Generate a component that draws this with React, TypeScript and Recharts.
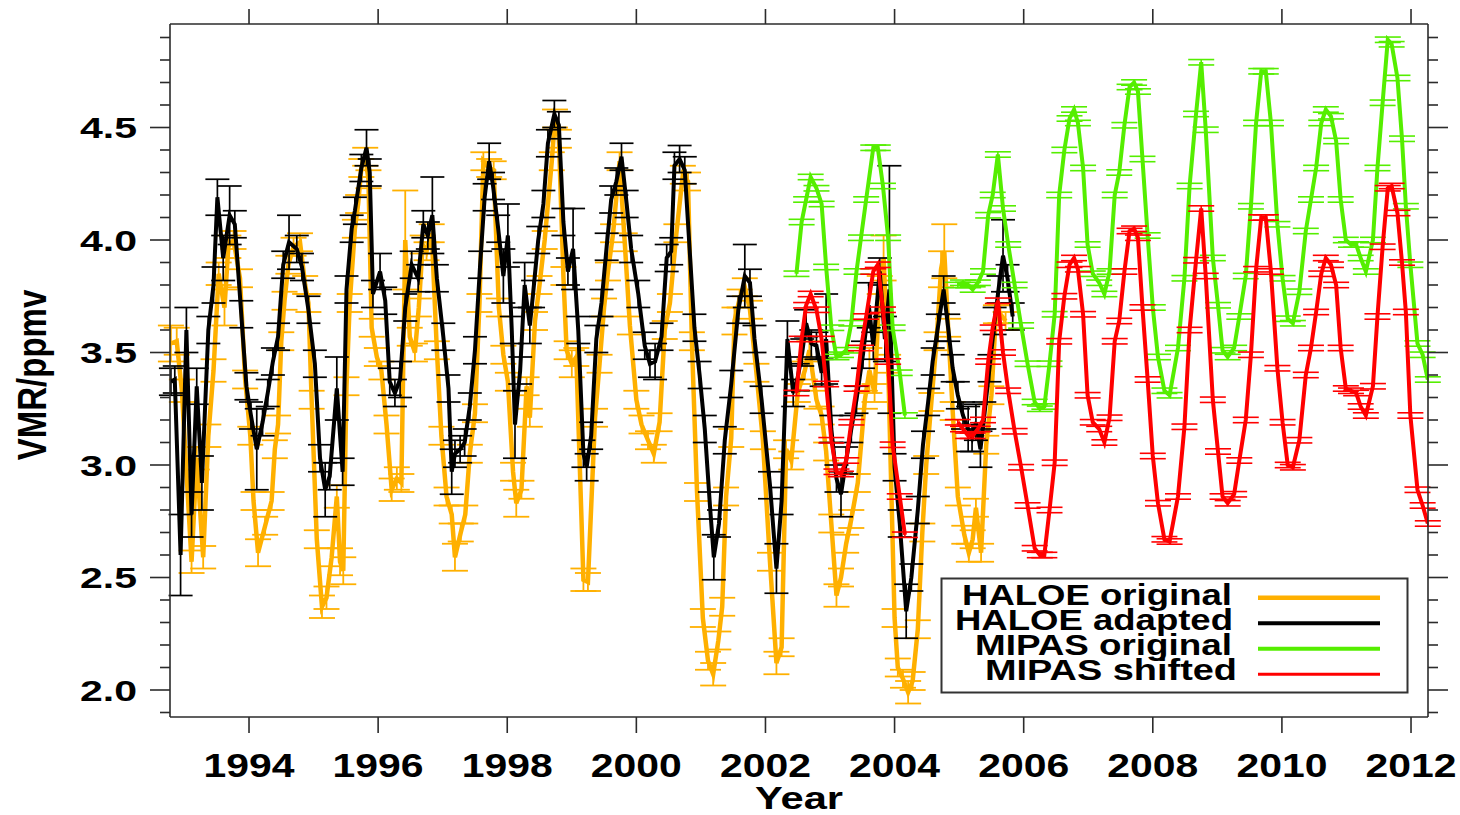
import React from 'react'
import { LineChart, Line, XAxis, YAxis, ErrorBar, Legend } from 'recharts'

// time in decimal years, water vapour in ppmv

const haloeOrigT = [
  1992.79, 1992.88, 1992.96,
  1993.11, 1993.19, 1993.29, 1993.37, 1993.45, 1993.53, 1993.62, 1993.68, 1993.76, 1993.86, 1993.94,
  1994.02, 1994.07, 1994.14, 1994.25, 1994.35, 1994.40, 1994.45, 1994.50, 1994.55, 1994.61, 1994.69, 1994.79, 1994.87, 1994.92, 1994.97,
  1995.05, 1995.13, 1995.20, 1995.28, 1995.36, 1995.41, 1995.46, 1995.51, 1995.56, 1995.64, 1995.69, 1995.74, 1995.80, 1995.85, 1995.90, 1995.98,
  1996.05, 1996.13, 1996.21, 1996.29, 1996.36, 1996.42, 1996.49, 1996.57, 1996.63, 1996.69, 1996.75, 1996.83, 1996.91, 1996.98,
  1997.06, 1997.14, 1997.19, 1997.28, 1997.35, 1997.42, 1997.50, 1997.57, 1997.63, 1997.72, 1997.79, 1997.87, 1997.94,
  1998.01, 1998.09, 1998.14, 1998.22, 1998.30, 1998.35, 1998.43, 1998.50, 1998.58, 1998.69, 1998.74, 1998.80, 1998.87, 1998.92,
  1999.00, 1999.07, 1999.18, 1999.25, 1999.36, 1999.43, 1999.50, 1999.56, 1999.64, 1999.74, 1999.82, 1999.90,
  2000.00, 2000.08, 2000.18, 2000.27, 2000.36, 2000.44, 2000.52, 2000.62, 2000.72, 2000.80, 2000.86, 2000.94,
  2001.03, 2001.11, 2001.19, 2001.27, 2001.33, 2001.39, 2001.47, 2001.52, 2001.60, 2001.68, 2001.76, 2001.86, 2001.96,
  2002.07, 2002.17, 2002.25, 2002.32, 2002.40, 2002.50, 2002.61, 2002.68, 2002.79, 2002.87, 2002.94,
  2003.02, 2003.10, 2003.17, 2003.25, 2003.33, 2003.43, 2003.54, 2003.61, 2003.69, 2003.77, 2003.83, 2003.90,
  2004.00, 2004.05, 2004.13, 2004.21, 2004.28, 2004.36, 2004.43, 2004.49, 2004.57, 2004.65, 2004.72, 2004.77, 2004.83, 2004.90, 2004.98,
  2005.08, 2005.15, 2005.21, 2005.26, 2005.34, 2005.42, 2005.50, 2005.57, 2005.64, 2005.72,
]
const haloeOrigV = [
  3.54, 3.55, 3.33,
  2.57, 3.03, 2.59, 3.13, 3.42, 3.85, 3.70, 3.97, 4.00, 3.83, 3.38,
  3.13, 2.84, 2.61, 2.73, 2.84, 3.07, 3.18, 3.55, 3.73, 3.89, 3.97, 3.99, 3.80, 3.72, 3.29,
  2.67, 2.37, 2.41, 2.59, 2.86, 2.57, 2.53, 3.35, 3.72, 4.05, 4.16, 4.32, 4.37, 4.27, 3.61, 3.48,
  3.42, 3.18, 2.89, 2.94, 2.92, 4.00, 3.57, 3.50, 3.70, 3.98, 3.95, 4.03, 3.51, 3.13,
  2.86, 2.78, 2.59, 2.70, 2.78, 3.05, 3.23, 3.72, 4.35, 4.32, 4.31, 3.70, 3.49,
  3.37, 2.97, 2.83, 2.89, 3.35, 3.21, 3.64, 3.80, 4.00, 4.35, 4.54, 4.45, 3.84, 3.51,
  3.45, 3.48, 2.49, 2.48, 3.21, 3.45, 3.70, 3.86, 4.03, 4.35, 3.99, 3.62,
  3.29, 3.18, 3.11, 3.05, 3.19, 3.60, 3.72, 4.03, 4.29, 4.26, 3.55, 2.88,
  2.32, 2.13, 2.07, 2.22, 2.37, 2.86, 3.12, 3.64, 3.74, 3.79, 3.69, 3.41, 3.11,
  2.57, 2.12, 2.19, 3.07, 3.02, 3.32, 3.42, 3.51, 3.29, 3.22, 3.06,
  2.74, 2.42, 2.50, 2.65, 2.76, 2.92, 3.29, 3.42, 3.32, 3.80, 3.92, 3.45,
  2.32, 2.10, 2.05, 1.99, 2.04, 2.27, 2.70, 3.00, 3.28, 3.55, 3.87, 3.95, 3.61, 3.24, 2.86,
  2.69, 2.61, 2.67, 2.81, 2.61, 3.09, 3.31, 3.67, 3.67, 3.64,
]
const haloeOrigE = [
  0.08, 0.06, 0.05,
  0.05, 0.05, 0.05, 0.05, 0.05, 0.05, 0.08, 0.05, 0.04, 0.04, 0.04,
  0.04, 0.04, 0.06, 0.04, 0.04, 0.04, 0.04, 0.04, 0.04, 0.04, 0.04, 0.04, 0.04, 0.04, 0.04,
  0.04, 0.05, 0.05, 0.04, 0.05, 0.06, 0.06, 0.04, 0.04, 0.04, 0.04, 0.04, 0.04, 0.04, 0.04, 0.04,
  0.04, 0.04, 0.05, 0.05, 0.04, 0.22, 0.04, 0.04, 0.04, 0.04, 0.04, 0.04, 0.04, 0.04,
  0.04, 0.04, 0.06, 0.04, 0.04, 0.04, 0.04, 0.04, 0.04, 0.04, 0.04, 0.04, 0.04,
  0.04, 0.04, 0.06, 0.04, 0.04, 0.04, 0.04, 0.04, 0.04, 0.04, 0.04, 0.04, 0.04, 0.04,
  0.06, 0.04, 0.05, 0.04, 0.04, 0.04, 0.04, 0.04, 0.04, 0.04, 0.04, 0.04,
  0.04, 0.04, 0.04, 0.04, 0.04, 0.04, 0.04, 0.04, 0.04, 0.04, 0.04, 0.04,
  0.04, 0.04, 0.05, 0.04, 0.04, 0.04, 0.04, 0.06, 0.04, 0.04, 0.04, 0.04, 0.04,
  0.04, 0.05, 0.04, 0.04, 0.04, 0.04, 0.04, 0.04, 0.04, 0.04, 0.04,
  0.04, 0.05, 0.04, 0.04, 0.04, 0.04, 0.04, 0.10, 0.04, 0.04, 0.10, 0.04,
  0.04, 0.04, 0.04, 0.05, 0.04, 0.04, 0.04, 0.04, 0.04, 0.04, 0.08, 0.12, 0.04, 0.04, 0.04,
  0.04, 0.04, 0.04, 0.04, 0.04, 0.04, 0.04, 0.04, 0.04, 0.04,
]

const haloeAdaptT = [
  1992.79, 1992.85, 1992.94,
  1993.03, 1993.11, 1993.19, 1993.27, 1993.37, 1993.45, 1993.51, 1993.60, 1993.70, 1993.78, 1993.88, 1993.96,
  1994.03, 1994.12, 1994.21, 1994.29, 1994.37, 1994.45, 1994.53, 1994.62, 1994.74, 1994.82, 1994.92,
  1995.02, 1995.10, 1995.18, 1995.25, 1995.36, 1995.45, 1995.51, 1995.59, 1995.64, 1995.74, 1995.82, 1995.87, 1995.92,
  1996.03, 1996.11, 1996.18, 1996.26, 1996.34, 1996.42, 1996.52, 1996.62, 1996.70, 1996.77, 1996.84, 1996.91,
  1997.01, 1997.09, 1997.14, 1997.19, 1997.27, 1997.34, 1997.42, 1997.50, 1997.58, 1997.65, 1997.72, 1997.78, 1997.86, 1997.94,
  1998.01, 1998.07, 1998.12, 1998.20, 1998.27, 1998.35, 1998.40, 1998.48, 1998.56, 1998.63, 1998.73, 1998.80, 1998.87, 1998.94,
  1999.02, 1999.10, 1999.18, 1999.23, 1999.30, 1999.38, 1999.46, 1999.54, 1999.61, 1999.69, 1999.77, 1999.85, 1999.92,
  2000.03, 2000.13, 2000.21, 2000.29, 2000.39, 2000.47, 2000.54, 2000.59, 2000.67, 2000.75, 2000.90, 2000.98,
  2001.06, 2001.14, 2001.20, 2001.28, 2001.37, 2001.47, 2001.58, 2001.68, 2001.76, 2001.83, 2001.94,
  2002.07, 2002.17, 2002.25, 2002.34, 2002.43, 2002.50, 2002.57, 2002.63, 2002.71, 2002.79, 2002.87, 2002.94,
  2003.02, 2003.10, 2003.17, 2003.25, 2003.33, 2003.41, 2003.51, 2003.60, 2003.67, 2003.77, 2003.85, 2003.92,
  2004.00, 2004.08, 2004.18, 2004.26, 2004.36, 2004.44, 2004.52, 2004.59, 2004.67, 2004.76, 2004.83, 2004.90, 2004.98,
  2005.06, 2005.14, 2005.20, 2005.26, 2005.33, 2005.39, 2005.47, 2005.55, 2005.61, 2005.68, 2005.75, 2005.83,
]
const haloeAdaptV = [
  3.37, 3.38, 2.60,
  3.60, 2.78, 3.35, 2.92, 3.60, 3.80, 4.19, 3.92, 4.11, 4.07, 3.67, 3.35,
  3.22, 3.07, 3.19, 3.32, 3.46, 3.57, 3.89, 3.99, 3.96, 3.88, 3.69,
  3.45, 3.03, 2.89, 2.95, 3.34, 2.97, 3.78, 4.05, 4.13, 4.32, 4.41, 4.30, 3.76,
  3.86, 3.73, 3.37, 3.32, 3.38, 3.70, 3.89, 3.83, 4.07, 4.02, 4.11, 3.83,
  3.57, 3.34, 2.97, 3.05, 3.07, 3.10, 3.26, 3.51, 3.89, 4.19, 4.35, 4.24, 4.05, 3.84,
  4.02, 3.60, 3.18, 3.42, 3.80, 3.62, 3.76, 4.00, 4.16, 4.43, 4.56, 4.51, 4.08, 3.86,
  3.96, 3.60, 3.05, 2.99, 3.13, 3.56, 3.72, 3.97, 4.18, 4.26, 4.37, 4.16, 3.96,
  3.76, 3.53, 3.45, 3.46, 3.57, 3.92, 3.95, 4.33, 4.36, 4.31, 3.61, 3.40,
  3.16, 2.82, 2.59, 2.74, 3.11, 3.36, 3.69, 3.84, 3.81, 3.56, 3.29,
  2.91, 2.54, 2.84, 3.56, 3.32, 3.39, 3.50, 3.63, 3.54, 3.53, 3.41, 3.56,
  3.16, 2.94, 2.87, 3.02, 3.16, 3.29, 3.49, 3.71, 3.53, 3.86, 3.56, 3.78,
  2.99, 2.74, 2.35, 2.50, 2.80, 3.09, 3.28, 3.46, 3.61, 3.78, 3.61, 3.43, 3.31,
  3.22, 3.16, 3.12, 3.19, 3.07, 3.22, 3.43, 3.64, 3.78, 3.93, 3.83, 3.66,
]
const haloeAdaptE = [
  0.06, 0.06, 0.18,
  0.10, 0.10, 0.08, 0.12, 0.06, 0.08, 0.08, 0.10, 0.13, 0.06, 0.06, 0.06,
  0.06, 0.18, 0.06, 0.06, 0.06, 0.06, 0.06, 0.12, 0.06, 0.06, 0.06,
  0.06, 0.06, 0.12, 0.06, 0.14, 0.06, 0.06, 0.06, 0.06, 0.06, 0.08, 0.06, 0.06,
  0.08, 0.06, 0.06, 0.06, 0.08, 0.06, 0.06, 0.06, 0.06, 0.06, 0.17, 0.06,
  0.06, 0.06, 0.10, 0.06, 0.06, 0.06, 0.06, 0.06, 0.06, 0.06, 0.08, 0.06, 0.06, 0.12,
  0.14, 0.06, 0.15, 0.06, 0.10, 0.08, 0.06, 0.06, 0.06, 0.06, 0.06, 0.06, 0.06, 0.06,
  0.18, 0.06, 0.06, 0.06, 0.06, 0.06, 0.06, 0.06, 0.06, 0.06, 0.06, 0.06, 0.06,
  0.06, 0.06, 0.06, 0.08, 0.06, 0.06, 0.06, 0.06, 0.06, 0.06, 0.06, 0.06,
  0.06, 0.06, 0.10, 0.06, 0.06, 0.06, 0.06, 0.14, 0.06, 0.06, 0.06,
  0.06, 0.11, 0.06, 0.08, 0.06, 0.06, 0.06, 0.06, 0.06, 0.06, 0.06, 0.20,
  0.06, 0.06, 0.10, 0.06, 0.06, 0.06, 0.06, 0.10, 0.06, 0.06, 0.10, 0.55,
  0.06, 0.06, 0.12, 0.06, 0.06, 0.06, 0.06, 0.06, 0.06, 0.06, 0.06, 0.06, 0.06,
  0.06, 0.10, 0.06, 0.08, 0.08, 0.06, 0.06, 0.06, 0.06, 0.16, 0.06, 0.06,
]

// MIPAS, first period (2002-2004)
const mipasEarlyT = [
  2002.48, 2002.56, 2002.63, 2002.70, 2002.79, 2002.87, 2002.94,
  2003.02, 2003.10, 2003.17, 2003.25, 2003.33, 2003.41, 2003.48, 2003.56, 2003.67, 2003.74, 2003.82, 2003.90, 2003.97,
  2004.08, 2004.16,
]
const mipasEarlyOrig = [
  3.85, 4.08, 4.18, 4.28, 4.23, 4.16, 3.88,
  3.61, 3.48, 3.49, 3.51, 3.63, 3.86, 4.01, 4.18, 4.41, 4.41, 4.24, 4.01, 3.61,
  3.41, 3.22,
]
const mipasEarlyShift = [
  3.32, 3.56, 3.71, 3.76, 3.69, 3.56, 3.36,
  3.11, 2.97, 2.96, 3.02, 3.19, 3.34, 3.52, 3.66, 3.86, 3.89, 3.69, 3.46, 3.09,
  2.86, 2.69,
]

// MIPAS, second period (2005-2012)
const mipasLateT = [
  2004.98,
  2005.06, 2005.14, 2005.21, 2005.29, 2005.37, 2005.45, 2005.52, 2005.60, 2005.68, 2005.76, 2005.86, 2005.96,
  2006.06, 2006.17, 2006.25, 2006.32, 2006.40, 2006.48, 2006.55, 2006.63, 2006.71, 2006.78, 2006.84, 2006.92, 2006.99,
  2007.07, 2007.17, 2007.25, 2007.33, 2007.41, 2007.48, 2007.56, 2007.64, 2007.71, 2007.77, 2007.84, 2007.92,
  2008.00, 2008.08, 2008.18, 2008.26, 2008.39, 2008.49, 2008.57, 2008.67, 2008.75, 2008.82, 2008.93,
  2009.01, 2009.08, 2009.16, 2009.26, 2009.34, 2009.44, 2009.52, 2009.60, 2009.68, 2009.75, 2009.83, 2009.93,
  2010.01, 2010.09, 2010.17, 2010.27, 2010.37, 2010.45, 2010.53, 2010.61, 2010.68, 2010.76, 2010.84, 2010.91, 2010.99,
  2011.07, 2011.15, 2011.22, 2011.30, 2011.41, 2011.48, 2011.56, 2011.64, 2011.70, 2011.79, 2011.86, 2011.92, 2011.99,
  2012.10, 2012.18, 2012.26,
]
const mipasLateOrig = [
  3.80,
  3.81, 3.80, 3.78, 3.81, 3.86, 4.11, 4.20, 4.38, 4.14, 3.98, 3.80, 3.62,
  3.45, 3.28, 3.25, 3.26, 3.45, 3.67, 4.20, 4.40, 4.54, 4.58, 4.52, 4.32, 3.98,
  3.85, 3.81, 3.76, 3.86, 4.20, 4.30, 4.51, 4.68, 4.70, 4.66, 4.36, 4.02,
  3.70, 3.48, 3.33, 3.31, 3.52, 3.83, 4.24, 4.56, 4.79, 4.49, 3.92,
  3.71, 3.51, 3.48, 3.52, 3.66, 3.84, 4.15, 4.52, 4.75, 4.75, 4.52, 4.07,
  3.83, 3.65, 3.63, 3.77, 4.04, 4.18, 4.32, 4.52, 4.58, 4.55, 4.44, 4.18, 4.00,
  3.98, 3.98, 3.92, 3.86, 4.00, 4.32, 4.61, 4.89, 4.87, 4.72, 4.45, 4.15, 3.89,
  3.54, 3.49, 3.38,
]
const mipasLateShift = [
  3.19,
  3.16, 3.13, 3.13, 3.16, 3.20, 3.46, 3.61, 3.73, 3.50, 3.33, 3.15, 2.99,
  2.82, 2.63, 2.60, 2.60, 2.80, 3.01, 3.55, 3.75, 3.89, 3.92, 3.87, 3.67, 3.31,
  3.19, 3.16, 3.10, 3.21, 3.55, 3.64, 3.86, 4.04, 4.05, 4.01, 3.70, 3.38,
  3.04, 2.83, 2.67, 2.66, 2.86, 3.17, 3.60, 3.91, 4.14, 3.84, 3.29,
  3.06, 2.86, 2.83, 2.87, 3.02, 3.20, 3.49, 3.87, 4.10, 4.10, 3.86, 3.43,
  3.19, 3.00, 2.99, 3.11, 3.40, 3.52, 3.68, 3.85, 3.92, 3.89, 3.80, 3.52, 3.34,
  3.33, 3.32, 3.26, 3.22, 3.35, 3.66, 3.97, 4.23, 4.24, 4.12, 3.90, 3.68, 3.22,
  2.89, 2.82, 2.74,
]
const mipasErr = 0.012

const yearTicks = [1994, 1996, 1998, 2000, 2002, 2004, 2006, 2008, 2010, 2012]
const vmrTicks = [
  1.9, 2.0, 2.1, 2.2, 2.3, 2.4, 2.5, 2.6, 2.7, 2.8, 2.9, 3.0, 3.1, 3.2, 3.3, 3.4,
  3.5, 3.6, 3.7, 3.8, 3.9, 4.0, 4.1, 4.2, 4.3, 4.4, 4.5, 4.6, 4.7, 4.8, 4.9,
]
const legendLabels = ['HALOE original', 'HALOE adapted', 'MIPAS original', 'MIPAS shifted']

const X_DOMAIN = [1992.776, 2012.263]
const Y_DOMAIN = [1.88, 4.96]

const ORANGE = '#ffb000'
const BLACK = '#000000'
const GREEN = '#55ee00'
const RED = '#ff0000'
const AXIS = '#2b2b2b'
const FONT = '"Liberation Sans", Arial, Helvetica, sans-serif'

const rows = (t: number[], v: number[], e: number[] | number) =>
  t.map((x, i) => ({ t: x, v: v[i], e: Array.isArray(e) ? e[i] : e }))

const haloeOrig = rows(haloeOrigT, haloeOrigV, haloeOrigE)
const haloeAdapt = rows(haloeAdaptT, haloeAdaptV, haloeAdaptE)
const mipasOrig1 = rows(mipasEarlyT, mipasEarlyOrig, mipasErr)
const mipasShift1 = rows(mipasEarlyT, mipasEarlyShift, mipasErr)
const mipasOrig2 = rows(mipasLateT, mipasLateOrig, mipasErr)
const mipasShift2 = rows(mipasLateT, mipasLateShift, mipasErr)

const isMajor = (v: number) => Math.abs(v * 2 - Math.round(v * 2)) < 1e-6

function LeftTick(props: any) {
  const { x, y, payload } = props
  const major = isMajor(payload.value)
  return (
    <g>
      <line x1={x - (major ? 20 : 10)} x2={x} y1={y} y2={y} stroke={AXIS} strokeWidth={1.6} />
      {major && (
        <text x={x - 33} y={y} dy={10.5} textAnchor="end" fontFamily={FONT} fontWeight="bold"
          fontSize={29.5} fill="#000" textLength={57} lengthAdjust="spacingAndGlyphs">
          {payload.value.toFixed(1)}
        </text>
      )}
    </g>
  )
}

function RightTick(props: any) {
  const { x, y, payload } = props
  const major = isMajor(payload.value)
  return <line x1={x} x2={x + (major ? 20 : 10)} y1={y} y2={y} stroke={AXIS} strokeWidth={1.6} />
}

function BottomTick(props: any) {
  const { x, y, payload } = props
  return (
    <g>
      <line x1={x} x2={x} y1={y} y2={y + 16} stroke={AXIS} strokeWidth={1.6} />
      <text x={x} y={y + 60} textAnchor="middle" fontFamily={FONT} fontWeight="bold" fontSize={33.5}
        fill="#000" textLength={91} lengthAdjust="spacingAndGlyphs">
        {payload.value}
      </text>
    </g>
  )
}

function TopTick(props: any) {
  const { x, y } = props
  return <line x1={x} x2={x} y1={y - 15} y2={y} stroke={AXIS} strokeWidth={1.6} />
}

function YearLabel() {
  return (
    <text x={799} y={809} textAnchor="middle" fontFamily={FONT} fontWeight="bold" fontSize={32}
      fill="#000" textLength={88} lengthAdjust="spacingAndGlyphs">
      Year
    </text>
  )
}

function VmrLabel() {
  return (
    <text transform="translate(46,375) rotate(-90) scale(1,1.22)" textAnchor="middle" fontFamily={FONT}
      fontWeight="bold" fontSize={33} fill="#000">
      VMR/ppmv
    </text>
  )
}

const legendRows = [
  { color: ORANGE, right: 292, len: 270, w: 4.5 },
  { color: BLACK, right: 293, len: 278, w: 4 },
  { color: GREEN, right: 292, len: 257, w: 4 },
  { color: RED, right: 297, len: 252, w: 3 },
]

function LegendBox() {
  return (
    <svg width={470} height={118} style={{ display: 'block' }}>
      <rect x={1.5} y={1.5} width={466} height={114} fill="#fff" stroke="#333" strokeWidth={2} />
      {legendRows.map((r, i) => (
        <g key={legendLabels[i]}>
          <text x={r.right} y={28 + 25 * i} textAnchor="end" fontFamily={FONT} fontWeight="bold"
            fontSize={29} fill="#000" textLength={r.len} lengthAdjust="spacingAndGlyphs">
            {legendLabels[i]}
          </text>
          <line x1={318} x2={440} y1={20.7 + 25.5 * i} y2={20.7 + 25.5 * i} stroke={r.color} strokeWidth={r.w} />
        </g>
      ))}
    </svg>
  )
}

export default function App() {
  const common = {
    xAxisId: 'b',
    yAxisId: 'l',
    dataKey: 'v',
    type: 'linear' as const,
    dot: false,
    activeDot: false,
    isAnimationActive: false,
    legendType: 'none' as const,
  }
  return (
    <div style={{ position: 'absolute', left: 0, top: 0, width: 1460, height: 815, background: '#fff' }}>
      <LineChart width={1460} height={815} margin={{ top: 0, right: 0, bottom: 0, left: 0 }}>
        <XAxis xAxisId="b" type="number" dataKey="t" orientation="bottom" height={98}
          domain={X_DOMAIN} allowDataOverflow ticks={yearTicks} interval={0}
          tickSize={0} tickMargin={0} tickLine={false} tick={<BottomTick />}
          axisLine={{ stroke: AXIS, strokeWidth: 1.6 }} label={<YearLabel />} />
        <XAxis xAxisId="t" type="number" dataKey="t" orientation="top" height={24}
          domain={X_DOMAIN} allowDataOverflow ticks={yearTicks} interval={0}
          tickSize={0} tickMargin={0} tickLine={false} tick={<TopTick />}
          axisLine={{ stroke: AXIS, strokeWidth: 1.6 }} />
        <YAxis yAxisId="l" type="number" orientation="left" width={170}
          domain={Y_DOMAIN} allowDataOverflow ticks={vmrTicks} interval={0}
          tickSize={0} tickMargin={0} tickLine={false} tick={<LeftTick />}
          axisLine={{ stroke: AXIS, strokeWidth: 1.6 }} label={<VmrLabel />} />
        <YAxis yAxisId="r" type="number" orientation="right" width={32}
          domain={Y_DOMAIN} allowDataOverflow ticks={vmrTicks} interval={0}
          tickSize={0} tickMargin={0} tickLine={false} tick={<RightTick />}
          axisLine={{ stroke: AXIS, strokeWidth: 1.6 }} />

        <Line {...common} data={haloeOrig} stroke={ORANGE} strokeWidth={4.5}>
          <ErrorBar dataKey="e" direction="y" width={13} stroke={ORANGE} strokeWidth={1.8} isAnimationActive={false} />
        </Line>
        <Line {...common} data={haloeAdapt} stroke={BLACK} strokeWidth={4}>
          <ErrorBar dataKey="e" direction="y" width={12} stroke={BLACK} strokeWidth={1.7} isAnimationActive={false} />
        </Line>
        <Line {...common} data={mipasOrig1} stroke={GREEN} strokeWidth={4}>
          <ErrorBar dataKey="e" direction="y" width={13} stroke={GREEN} strokeWidth={1.6} isAnimationActive={false} />
        </Line>
        <Line {...common} data={mipasOrig2} stroke={GREEN} strokeWidth={4}>
          <ErrorBar dataKey="e" direction="y" width={13} stroke={GREEN} strokeWidth={1.6} isAnimationActive={false} />
        </Line>
        <Line {...common} data={mipasShift1} stroke={RED} strokeWidth={4}>
          <ErrorBar dataKey="e" direction="y" width={13} stroke={RED} strokeWidth={1.6} isAnimationActive={false} />
        </Line>
        <Line {...common} data={mipasShift2} stroke={RED} strokeWidth={4}>
          <ErrorBar dataKey="e" direction="y" width={13} stroke={RED} strokeWidth={1.6} isAnimationActive={false} />
        </Line>

        <Legend layout="vertical" align="center" verticalAlign="middle" content={<LegendBox />}
          wrapperStyle={{ left: 940, top: 577, width: 470, height: 118 }} />
      </LineChart>
    </div>
  )
}
